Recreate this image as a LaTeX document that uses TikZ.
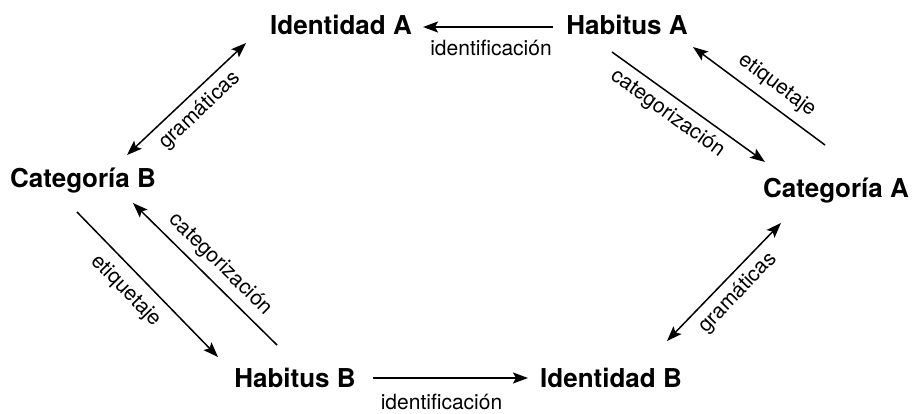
\documentclass[tikz,border=0pt]{standalone}
\usepackage{fontspec}
\setmainfont{TeX Gyre Heros}
\usetikzlibrary{arrows.meta}

\tikzset{
    term/.style={font=\fontsize{26}{30}\selectfont\bfseries, inner sep=0pt, anchor=base},
    lbl/.style={font=\fontsize{21}{25}\selectfont, inner sep=0pt},
    tip/.tip={Stealth[length=15pt, width=11pt, inset=3pt]},
    arr/.style={line width=1.5pt, -tip},
    rarr/.style={line width=1.5pt, tip-},
    darr/.style={line width=1.5pt, tip-tip}
}

\begin{document}
\begin{tikzpicture}[x=1pt, y=-1pt]
    \useasboundingbox (0,0) rectangle (913,413);
    \node[term] (idA) at (341,34) {Identidad A};
    \node[term] (habA) at (627,34) {Habitus A};
    \node[term] (catB) at (83,187) {Categoría B};
    \node[term] (catA) at (836,197) {Categoría A};
    \node[term] (habB) at (295,387) {Habitus B};
    \node[term] (idB) at (611,387) {Identidad B};

    \draw[arr] ([shift={(-74,-7)}]habA.base) -- ([shift={(82,-7)}]idA.base)
        node[lbl, midway, anchor=base, xshift=3pt, yshift=-28pt] {identificación};
    \draw[arr] ([shift={(78,-9)}]habB.base) -- ([shift={(-83,-9)}]idB.base)
        node[lbl, midway, anchor=base, xshift=-9pt, yshift=-31pt] {identificación};

    \draw[arr] ([shift={(-15,18)}]habA.base) -- ([shift={(-71,-35)}]catA.base)
        node[lbl, pos=0.43, sloped, below=7pt] {categorización};
    \draw[rarr] ([shift={(66,13)}]habA.base) -- ([shift={(-11,-52)}]catA.base)
        node[lbl, pos=0.55, sloped, above=8.5pt] {etiquetaje};

    \draw[darr] ([shift={(44,-32)}]catB.base) -- ([shift={(-95,9)}]idA.base)
        node[lbl, pos=0.51, sloped, below=7pt] {gramáticas};
    \draw[darr] ([shift={(56,-46)}]idB.base) -- ([shift={(-55,26)}]catA.base)
        node[lbl, pos=0.51, sloped, below=7pt] {gramáticas};

    \draw[arr] ([shift={(-6,25)}]catB.base) -- ([shift={(-77,-30)}]habB.base)
        node[lbl, pos=0.45, sloped, below=9.5pt] {etiquetaje};
    \draw[rarr] ([shift={(50,16)}]catB.base) -- ([shift={(-18,-42)}]habB.base)
        node[lbl, pos=0.52, sloped, above=7pt] {categorización};
\end{tikzpicture}
\end{document}
